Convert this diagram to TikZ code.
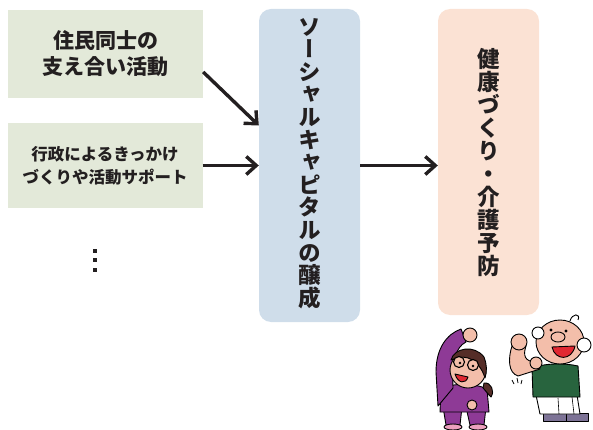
\documentclass[tikz,border=0pt]{standalone}
\usepackage{fontspec}
\newfontfamily\jp{Noto Sans CJK JP}[BoldFont={Noto Sans CJK JP Black}]
\newfontfamily\jpv{Noto Sans CJK JP}[BoldFont={Noto Sans CJK JP Black}, RawFeature={+vert}]
\usetikzlibrary{arrows.meta}

\definecolor{boxgreen}{RGB}{227,233,217}
\definecolor{boxblue}{RGB}{207,221,234}
\definecolor{boxpink}{RGB}{251,226,212}
\definecolor{ink}{RGB}{35,31,32}
\definecolor{suit}{RGB}{142,58,150}
\definecolor{skin}{RGB}{243,190,170}
\definecolor{hair}{RGB}{85,45,40}
\definecolor{shoe}{RGB}{236,160,190}
\definecolor{shirt}{RGB}{40,100,62}
\definecolor{mshoe}{RGB}{125,115,150}
\definecolor{mouth}{RGB}{225,40,50}

\tikzset{
  srcbox/.style={fill=boxgreen, minimum width=195pt, inner sep=0pt, align=center, text=ink},
  tallbox/.style={rounded corners=12pt, minimum width=101pt, inner sep=0pt},
  vtext/.style={align=center, text=ink, inner sep=0pt},
  arr/.style={draw=ink, line width=3.4pt, -{Straight Barb[length=10pt, width=18pt, line width=3.4pt]}},
  dotsq/.style={fill=ink, minimum size=4pt, inner sep=0pt},
  outl/.style={draw=black, line width=0.9pt, line join=round},
}

\begin{document}
\begin{tikzpicture}[x=1pt, y=-1pt]
\useasboundingbox (0,0) rectangle (593,430);

% input boxes
\node[srcbox, minimum height=88pt, font=\jp\bfseries\fontsize{21}{26}\selectfont] (s1) at (105.5,54) {住民同士の\\支え合い活動};
\node[srcbox, minimum height=85pt, font=\jp\bfseries\fontsize{16.5}{23}\selectfont] (s2) at (105,165.5) {行政によるきっかけ\\づくりや活動サポート};

% continuation dots
\node[dotsq] (d1) at (94.7,251) {};
\node[dotsq] (d2) at (94.7,260.3) {};
\node[dotsq] (d3) at (94.7,269.7) {};

% central and outcome columns
\node[tallbox, fill=boxblue, minimum height=313pt] (sc) at (309.5,165.5) {};
\node[tallbox, fill=boxpink, minimum height=306pt] (hp) at (488.5,162) {};

\node[vtext, font=\jpv\bfseries\fontsize{22.5}{22.6}\selectfont] (sct) at (310,163.5)
  {ソ\\ー\\シ\\ャ\\ル\\キ\\ャ\\ピ\\タ\\ル\\の\\醸\\成};
\node[vtext, font=\jpv\bfseries\fontsize{22.5}{23.1}\selectfont] (hpt) at (488.5,162.5)
  {健\\康\\づ\\く\\り\\・\\介\\護\\予\\防};

% connectors
\draw[arr] ([yshift=-18pt]s1.east) -- ([yshift=40pt]sc.west);
\draw[arr] (s2.east) -- (sc.west);
\draw[arr] (sc.east) -- (sc.east -| hp.west);

% woman stretching
\begin{scope}
  \fill[suit, outl] (443,407) -- (462,407) -- (460,425) -- (446,425) -- cycle;
  \fill[suit, outl] (466,407) -- (486,407) -- (484,425) -- (470,425) -- cycle;
  \fill[shoe, outl] (453,427) ellipse [x radius=9, y radius=3];
  \fill[shoe, outl] (478,427) ellipse [x radius=9, y radius=3];
  \fill[suit, outl] (441,388) .. controls (455,383) and (475,383) .. (487,389)
    -- (489,412) -- (440,412) -- cycle;
  \fill[suit, outl] (438,406) -- (436,372) .. controls (436,348) and (447,334) .. (461,329)
    -- (466,342) .. controls (456,347) and (452,360) .. (453,388) -- cycle;
  \fill[skin, outl] (470,335) circle [radius=7];
  \fill[skin, outl] (468,370) circle [radius=18];
  \fill[hair, outl] (451,360) .. controls (454,348) and (474,344) .. (484,357)
    .. controls (487,364) and (487,372) .. (485,378)
    .. controls (482,368) and (476,361) .. (468,358)
    .. controls (462,356) and (456,358) .. (451,360) -- cycle;
  \fill[hair, outl] (484,383) .. controls (491,382) and (495,391) .. (491,397)
    .. controls (487,393) and (485,390) .. (483,388) -- cycle;
  \filldraw[fill=skin, draw=black, line width=1.1pt] (459,362) circle [radius=5.5];
  \filldraw[fill=skin, draw=black, line width=1.1pt] (473,365) circle [radius=5.5];
  \fill[black] (460,363) circle [radius=1.3] (473,366) circle [radius=1.3];
  \fill[mouth, outl] (455,374) .. controls (458,384) and (466,384) .. (468,377) -- cycle;
  \fill[skin, outl] (472,405) circle [radius=5];
\end{scope}

% man flexing
\begin{scope}
  \fill[mshoe, outl] (543,413) rectangle (566,421);
  \fill[mshoe, outl] (566,413) rectangle (588,421);
  \fill[white, outl] (536,395) -- (577,395) -- (580,414) -- (540,414) -- cycle;
  \draw[black, line width=0.6pt] (558,398) -- (559,414) (572,397) -- (574,414);
  \fill[shirt, outl] (532,368) .. controls (545,363) and (565,363) .. (578,366)
    -- (580,397) -- (533,397) -- cycle;
  \fill[skin, outl] (540,369) -- (518,376) .. controls (508,373) and (508,358) .. (512,346)
    -- (526,346) .. controls (523,355) and (524,362) .. (537,362) -- cycle;
  \fill[skin, outl] (519,342) circle [radius=8];
  \fill[skin, outl] (536,363) circle [radius=6];
  \fill[skin, outl] (560,342) ellipse [x radius=24, y radius=22];
  \fill[white, outl] (584,345) circle [radius=7];
  \fill[white, outl] (538,333) circle [radius=6];
  \draw[black, line width=0.9pt] (570,321) .. controls (572,313) and (581,313) .. (578,320);
  \fill[black] (551,330) circle [radius=1.6] (566,331) circle [radius=1.6];
  \fill[skin, outl] (558,337) ellipse [x radius=7, y radius=5];
  \fill[mouth, outl] (552,347) .. controls (555,361) and (572,361) .. (575,346) -- cycle;
  \draw[black, line width=0.8pt] (512,380) -- (514,384) (517,378) -- (518,383) (522,380) -- (521,384);
\end{scope}
\end{tikzpicture}
\end{document}
